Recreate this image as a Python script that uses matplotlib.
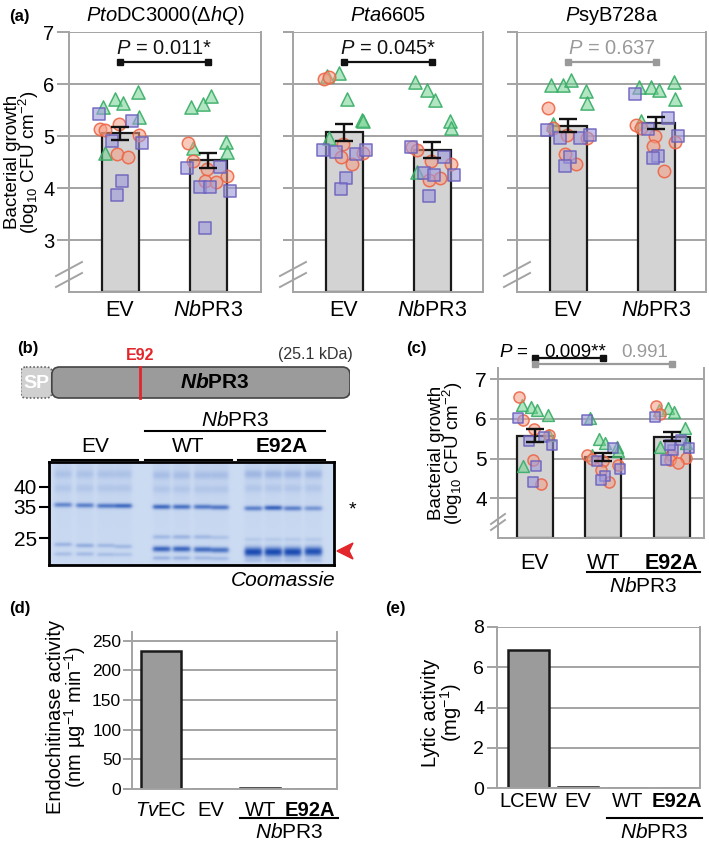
import numpy as np
import matplotlib
matplotlib.use("Agg")
import matplotlib.pyplot as plt
from matplotlib.patches import FancyBboxPatch, Polygon

plt.rcParams["font.family"] = ["Liberation Sans", "DejaVu Sans"]
plt.rcParams["mathtext.fontset"] = "custom"
plt.rcParams["mathtext.rm"] = "Liberation Sans"
plt.rcParams["mathtext.it"] = "Liberation Sans:italic"
plt.rcParams["mathtext.bf"] = "Liberation Sans:bold"
plt.rcParams["mathtext.bfit"] = "Liberation Sans:italic:bold"

# ---------------- data ----------------
# (a) bacterial growth; each group = [triangles, circles, squares]
strains = [r"$\mathit{Pto}$DC3000($\mathit{ΔhQ}$)", r"$\mathit{Pta}$6605", r"$\mathit{P}$syB728a"]
a_groups = ["EV", r"$\mathit{Nb}$PR3"]
pto_ev = [[5.56, 5.71, 5.64, 5.85, 5.36, 4.67],
          [5.13, 5.12, 5.24, 5.02, 4.65, 4.59],
          [5.42, 5.29, 4.90, 4.87, 4.14, 3.87]]
pto_pr3 = [[5.55, 5.61, 5.77, 4.88, 4.69, 4.76],
           [4.86, 4.51, 4.36, 4.23, 4.14, 4.12],
           [4.38, 4.41, 4.02, 3.94, 4.01, 3.24]]
pta_ev = [[6.15, 6.22, 5.72, 5.31, 5.29, 4.97],
          [6.10, 6.14, 4.85, 4.67, 4.60, 4.47],
          [4.73, 4.65, 4.70, 4.73, 4.19, 3.99]]
pta_pr3 = [[6.03, 5.88, 5.69, 5.29, 5.15, 4.30],
           [4.79, 4.73, 4.51, 4.47, 4.15, 4.20],
           [4.79, 4.59, 4.28, 4.25, 4.25, 3.85]]
psy_ev = [[5.98, 5.98, 6.08, 5.87, 5.63, 5.24],
          [5.53, 5.16, 5.02, 4.97, 4.65, 4.47],
          [5.12, 4.96, 4.97, 5.02, 4.60, 4.42]]
psy_pr3 = [[5.95, 5.94, 5.88, 6.03, 5.72, 5.29],
           [5.21, 5.15, 5.00, 4.89, 4.81, 4.33],
           [5.80, 5.34, 5.13, 5.00, 4.62, 4.57]]
a_means = [[5.05, 4.53], [5.07, 4.73], [5.20, 5.25]]
a_sems = [[0.13, 0.15], [0.17, 0.15], [0.12, 0.12]]
a_pvals = ["0.011*", "0.045*", "0.637"]
a_significant = [True, True, False]

# (b) protein and gel
PROT_LEN, SP_LEN, MUT_POS = 254, 24, 92
gel_groups = ["EV", "WT", "E92A"]
marker_kda = ["40", "35", "25"]
marker_mig = [25.0, 45.3, 76.3]          # migration, px from gel top
# rows = bands, cols = 12 lanes (4 EV, 4 WT, 4 E92A)
gel_band_mig = np.array([
    [43.5, 44.0, 44.5, 44.5, 45.5, 45.5, 45.5, 46.0, 47.0, 46.5, 47.0, 47.0],
    [0, 0, 0, 0, 87.5, 87.5, 88.0, 88.5, 90.5, 90.5, 90.5, 90.0],
    [83.0, 84.0, 84.0, 85.0, 75.5, 75.5, 75.5, 76.0, 78.0, 78.0, 78.0, 78.0],
    [92.5, 92.5, 93.0, 93.0, 96.5, 96.5, 96.5, 97.0, 99.0, 99.0, 99.0, 99.0],
    [13, 13, 13, 13, 14, 14, 14, 14, 13, 13, 13, 13],
    [27, 27, 27, 27, 28, 28, 28, 28, 27, 27, 27, 27]])
gel_band_int = np.array([
    [0.55, 0.60, 0.65, 0.75, 0.75, 0.70, 0.65, 0.65, 0.60, 0.80, 0.60, 0.45],
    [0, 0, 0, 0, 0.80, 0.80, 0.75, 0.70, 1.0, 1.0, 1.0, 0.95],
    [0.25, 0.30, 0.22, 0.22, 0.22, 0.25, 0.22, 0.15, 0.10, 0.10, 0.10, 0.10],
    [0.18, 0.20, 0.18, 0.15, 0.25, 0.25, 0.22, 0.20, 0.15, 0.15, 0.15, 0.15],
    [0.12, 0.12, 0.12, 0.12, 0.15, 0.15, 0.15, 0.15, 0.20, 0.20, 0.20, 0.20],
    [0.10] * 12])
gel_band_sigma = np.array([[1.7] * 12, [2.0] * 8 + [3.4] * 4, [1.5] * 12,
                           [1.5] * 12, [3.0] * 12, [3.0] * 12])

# (c) growth of Pto with WT / E92A
c_groups = ["EV", "WT", "E92A"]
c_ev = [[6.36, 6.30, 6.22, 6.10, 5.60, 4.82],
        [6.55, 5.98, 5.75, 5.60, 4.97, 4.35],
        [6.01, 5.55, 5.45, 5.35, 4.81, 4.42]]
c_wt = [[6.03, 5.48, 5.38, 5.30, 5.20, 5.08],
        [5.08, 5.00, 4.93, 4.83, 4.70, 4.41],
        [5.98, 5.27, 4.95, 4.74, 4.55, 4.47]]
c_e92a = [[6.22, 6.28, 6.17, 5.78, 5.40, 5.30],
          [6.32, 6.13, 5.08, 5.02, 4.97, 4.90],
          [6.05, 5.46, 4.97, 5.27, 5.21, 5.35]]
c_means = [5.58, 5.05, 5.55]
c_sems = [0.16, 0.10, 0.12]

# (d) endochitinase, (e) lytic activity
d_groups = [r"$\mathit{Tv}$EC", "EV", "WT", "E92A"]
d_values = [233, 0, 2, 0]
e_groups = ["LCEW", "EV", "WT", "E92A"]
e_values = [6.83, 0.08, 0, 0]

# ---------------- drawing ----------------
W, H = 709, 844
fig = plt.figure(figsize=(W / 100, H / 100), dpi=100)
GRID = "#a3a3a3"
MARKERS = [("^", (0.45, 0.82, 0.57, 0.55), (0.22, 0.68, 0.40, 0.9), 90),
           ("o", (0.96, 0.62, 0.52, 0.55), (0.93, 0.40, 0.28, 0.9), 80),
           ("s", (0.62, 0.60, 0.86, 0.6), (0.42, 0.38, 0.74, 0.9), 66)]
JITTER = [[-0.19, -0.06, 0.03, 0.20, 0.21, -0.17],
          [-0.23, -0.17, -0.01, 0.21, -0.03, 0.09],
          [-0.24, 0.14, -0.09, 0.25, 0.02, -0.03]]
GROWTH_LABEL = "Bacterial growth\n(log$_{10}$ CFU cm$^{-2}$)"


def px_axes(x0, y0, x1, y1):
    return fig.add_axes([x0 / W, 1 - y1 / H, (x1 - x0) / W, (y1 - y0) / H])


def style_axes(ax, yticks, labelsize, ticklen, xsize=15, xpad=6, ypad=2):
    ax.set_yticks(yticks)
    ax.grid(axis="y", color=GRID, lw=1.4)
    ax.set_axisbelow(True)
    ax.spines["top"].set_visible(False)
    for s in ("left", "right", "bottom"):
        ax.spines[s].set_color(GRID)
        ax.spines[s].set_linewidth(1.4)
    ax.tick_params(axis="y", length=ticklen, width=1.4, color=GRID,
                   labelsize=labelsize, pad=ypad)
    ax.tick_params(axis="x", length=0, labelsize=xsize, pad=xpad)


def draw_points(ax, x, shapes, scale=1.0):
    for vals, (mk, fc, ec, s), jit in zip(shapes, MARKERS, JITTER):
        ax.scatter(x + np.array(jit[:len(vals)]), vals, marker=mk, s=s * scale,
                   facecolor=fc, edgecolor=ec, lw=1.1, zorder=3)


def break_marks(ax, w, h, y0, hw, dy, sep):
    for k in range(2):
        yb = (y0 + k * sep) / h
        ax.plot([-hw / w, hw / w], [yb, yb + dy / h], transform=ax.transAxes,
                color=GRID, lw=1.4, clip_on=False, zorder=6)


# panel (a)
a_boxes = [(69, 32, 261, 292), (293, 32, 483, 292), (517, 32, 706, 292)]
a_data = [(pto_ev, pto_pr3), (pta_ev, pta_pr3), (psy_ev, psy_pr3)]
for i, box in enumerate(a_boxes):
    ax = px_axes(*box)
    x = np.arange(2)
    ax.bar(x, np.array(a_means[i]) - 2, bottom=2, width=0.42, color="#d3d3d3",
           edgecolor="#1a1a1a", lw=1.6, zorder=2)
    for xi, shapes in zip(x, a_data[i]):
        draw_points(ax, xi, shapes)
    ax.errorbar(x, a_means[i], yerr=a_sems[i], fmt="none", ecolor="#111",
                elinewidth=1.7, capsize=6.5, capthick=1.7, zorder=4)
    ax.set_xlim(-0.58, (box[2] - box[0]) / 88 - 0.58)
    ax.set_ylim(2, 7)
    style_axes(ax, [3, 4, 5, 6, 7], 14.5, 9 if i == 0 else 7.5, xsize=15.5, xpad=6,
               ypad=1.5)
    ax.set_xticks(x, a_groups)
    ax.set_title(strains[i], fontsize=14.5, pad=8)
    if i > 0:
        ax.set_yticklabels([])
    else:
        ax.set_ylabel(GROWTH_LABEL, fontsize=13.5, linespacing=0.8)
        ax.yaxis.set_label_coords(-0.145, 0.5)
    pc = "#111" if a_significant[i] else "#9a9a9a"
    ax.plot([0, 1], [6.43, 6.43], color=pc, lw=1.6, marker="s", ms=4.5,
            clip_on=False, zorder=5)
    ax.text(0.5, 6.68, r"$\mathit{P}$ = " + a_pvals[i], ha="center", va="center",
            fontsize=14.5, color=pc)
    break_marks(ax, box[2] - box[0], box[3] - box[1], 5, 13, 14, 11)

# panel (b): protein diagram
axd = px_axes(20.7, 340, 350, 410)
axd.set_xlim(0, PROT_LEN)
axd.set_ylim(410, 340)
axd.axis("off")
axd.add_patch(FancyBboxPatch((0, 367), SP_LEN, 31, boxstyle="round,pad=0,rounding_size=4",
                             mutation_aspect=1.3, fc="#d0d0d0", ec="#666", lw=1.2,
                             ls=(0, (1, 1.2))))
axd.add_patch(FancyBboxPatch((SP_LEN, 367), PROT_LEN - SP_LEN, 31,
                             boxstyle="round,pad=0,rounding_size=6", mutation_aspect=1.3,
                             fc="#9b9b9b", ec="#444", lw=1.2))
axd.text(SP_LEN / 2, 383, "SP", color="white", fontweight="bold", fontsize=14,
         ha="center", va="center")
axd.text(150, 383, r"$\mathbfit{Nb}$PR3", fontweight="bold", fontsize=15,
         ha="center", va="center")
axd.plot([MUT_POS, MUT_POS], [367, 398], color="#e3262b", lw=2)
axd.text(MUT_POS, 355, "E92", color="#e3262b", fontweight="bold", fontsize=11.5,
         ha="center", va="center")
axd.text(PROT_LEN + 2, 355, "(25.1 kDa)", color="#333", fontsize=11.5,
         ha="right", va="center")

# panel (b): gel
GEL_W, GEL_H = 284.7, 103.3
lane_x = [14, 35.7, 56.7, 74, 112.4, 132.4, 153.4, 170.7, 204, 224, 243.4, 264]
axg = px_axes(49.3, 461.7, 49.3 + GEL_W, 461.7 + GEL_H)
yy, xx = np.mgrid[0:GEL_H:0.33, 0:GEL_W:0.33]
inten = np.zeros_like(yy)
for li, cx in enumerate(lane_x):
    prof = 1 / (1 + np.exp((np.abs(xx - cx) - 8.5) / 1.0))
    inten += 0.07 * prof * np.exp(-yy / 60)
    for bi in range(gel_band_mig.shape[0]):
        amp = gel_band_int[bi, li]
        if amp > 0:
            sig = gel_band_sigma[bi, li]
            inten += amp * prof * np.exp(-0.5 * ((yy - gel_band_mig[bi, li]) / sig) ** 2)
inten = np.clip(inten, 0, 1)[..., None]
bg = np.array([0.80, 0.86, 0.95])
band = np.array([0.11, 0.30, 0.70])
axg.imshow(bg * (1 - inten) + band * inten, extent=(0, GEL_W, GEL_H, 0),
           aspect="auto", interpolation="bilinear")
axg.set_xlim(0, GEL_W)
axg.set_ylim(GEL_H, 0)
axg.set_xticks([])
axg.set_yticks(marker_mig, marker_kda)
axg.tick_params(axis="y", length=7, width=1.5, labelsize=15, pad=2)
for s in axg.spines.values():
    s.set_linewidth(2)

# panel (c)
axc = px_axes(498, 368, 704, 538)
xc = np.arange(3)
axc.bar(xc, np.array(c_means) - 3, bottom=3, width=0.525, color="#d3d3d3",
        edgecolor="#1a1a1a", lw=1.6, zorder=2)
for xi, shapes in zip(xc, [c_ev, c_wt, c_e92a]):
    draw_points(axc, xi, shapes, 0.8)
axc.errorbar(xc, c_means, yerr=c_sems, fmt="none", ecolor="#111", elinewidth=1.7,
             capsize=6.5, capthick=1.7, zorder=4)
axc.set_xlim(-0.535, 2.47)
axc.set_ylim(3, 7.28)
style_axes(axc, [4, 5, 6, 7], 15, 6, xsize=15.5, xpad=11)
axc.set_xticks(xc, c_groups)
axc.get_xticklabels()[2].set_fontweight("bold")
axc.set_ylabel(GROWTH_LABEL, fontsize=13.5, linespacing=0.8)
axc.yaxis.set_label_coords(-0.16, 0.5)
axc.plot([0, 1], [7.52, 7.52], color="#111", lw=1.6, marker="s", ms=4.5, clip_on=False, zorder=5)
axc.plot([0, 2], [7.37, 7.37], color="#9a9a9a", lw=1.6, marker="s", ms=4.5, clip_on=False, zorder=5)
axc.text(-0.31, 7.68, r"$\mathit{P}$ =", ha="center", va="center", fontsize=13.5)
axc.text(0.59, 7.68, "0.009**", ha="center", va="center", fontsize=13.5)
axc.text(1.6, 7.66, "0.991", ha="center", va="center", fontsize=13.5, color="#9a9a9a")
break_marks(axc, 206, 170, 8, 7, 10, 6)

# panel (d)
axe = px_axes(132.3, 631.7, 337.3, 789)
xd = np.arange(4)
axe.bar(xd, d_values, width=0.8, color="#9b9b9b", edgecolor="#1a1a1a", lw=1.8, zorder=2)
axe.set_xlim(-0.57, 3.55)
axe.set_ylim(0, 265)
style_axes(axe, [0, 50, 100, 150, 200, 250], 12.5, 6.5, xsize=14.5, xpad=9, ypad=1.5)
axe.set_xticks(xd, d_groups)
axe.get_xticklabels()[3].set_fontweight("bold")
axe.set_ylabel("Endochitinase activity\n(nm µg$^{-1}$ min$^{-1}$)", fontsize=14.5,
               linespacing=0.88)
axe.yaxis.set_label_coords(-0.215, 0.46)

# panel (e)
axf = px_axes(496.7, 626.7, 700, 788.3)
axf.bar(xd, e_values, width=0.82, color="#9b9b9b", edgecolor="#1a1a1a", lw=1.8, zorder=2)
axf.set_xlim(-0.646, 3.46)
axf.set_ylim(0, 8)
style_axes(axf, [0, 2, 4, 6, 8], 14, 7, xsize=14.5, xpad=3)
axf.set_xticks(xd, e_groups)
axf.get_xticklabels()[3].set_fontweight("bold")
axf.set_ylabel("Lytic activity\n(mg$^{-1}$)", fontsize=14.5, linespacing=0.9)
axf.yaxis.set_label_coords(-0.16, 0.466)

# annotations in figure pixels
ov = fig.add_axes([0, 0, 1, 1])
ov.set_xlim(0, W)
ov.set_ylim(H, 0)
ov.axis("off")
for lbl, (px, py) in zip(["(a)", "(b)", "(c)", "(d)", "(e)"],
                         [(9, 16), (17, 348), (406, 349), (9, 609), (385, 608)]):
    ov.text(px, py, lbl, fontweight="bold", fontsize=12, va="center")
nb = r"$\mathit{Nb}$PR3"
ov.text(235, 420, nb, ha="center", va="center", fontsize=15)
ov.plot([145, 325], [431, 431], color="k", lw=1.5)
for lbl, cx, x0, x1 in zip(gel_groups, [95, 188, 282], [52, 145, 238], [138, 232, 325]):
    ov.text(cx, 447, lbl, ha="center", va="center", fontsize=15,
            fontweight="bold" if lbl == "E92A" else "normal")
    ov.plot([x0, x1], [460, 460], color="k", lw=1.5)
ov.text(352, 510, "*", ha="center", va="center", fontsize=14)
ov.add_patch(Polygon([(337, 551), (353, 543), (349, 551), (353, 559)], closed=True,
                     color="#e3262b"))
ov.text(335, 580, "Coomassie", ha="right", va="center", fontsize=15, style="italic")
ov.plot([587, 700], [571.7, 571.7], color="k", lw=1.5)
ov.text(643, 586, nb, ha="center", va="center", fontsize=15)
ov.plot([240, 338], [818, 818], color="k", lw=1.5)
ov.text(289, 833, nb, ha="center", va="center", fontsize=15)
ov.plot([607, 702], [818, 818], color="k", lw=1.5)
ov.text(654, 833, nb, ha="center", va="center", fontsize=15)

fig.savefig("out.png", dpi=100)
